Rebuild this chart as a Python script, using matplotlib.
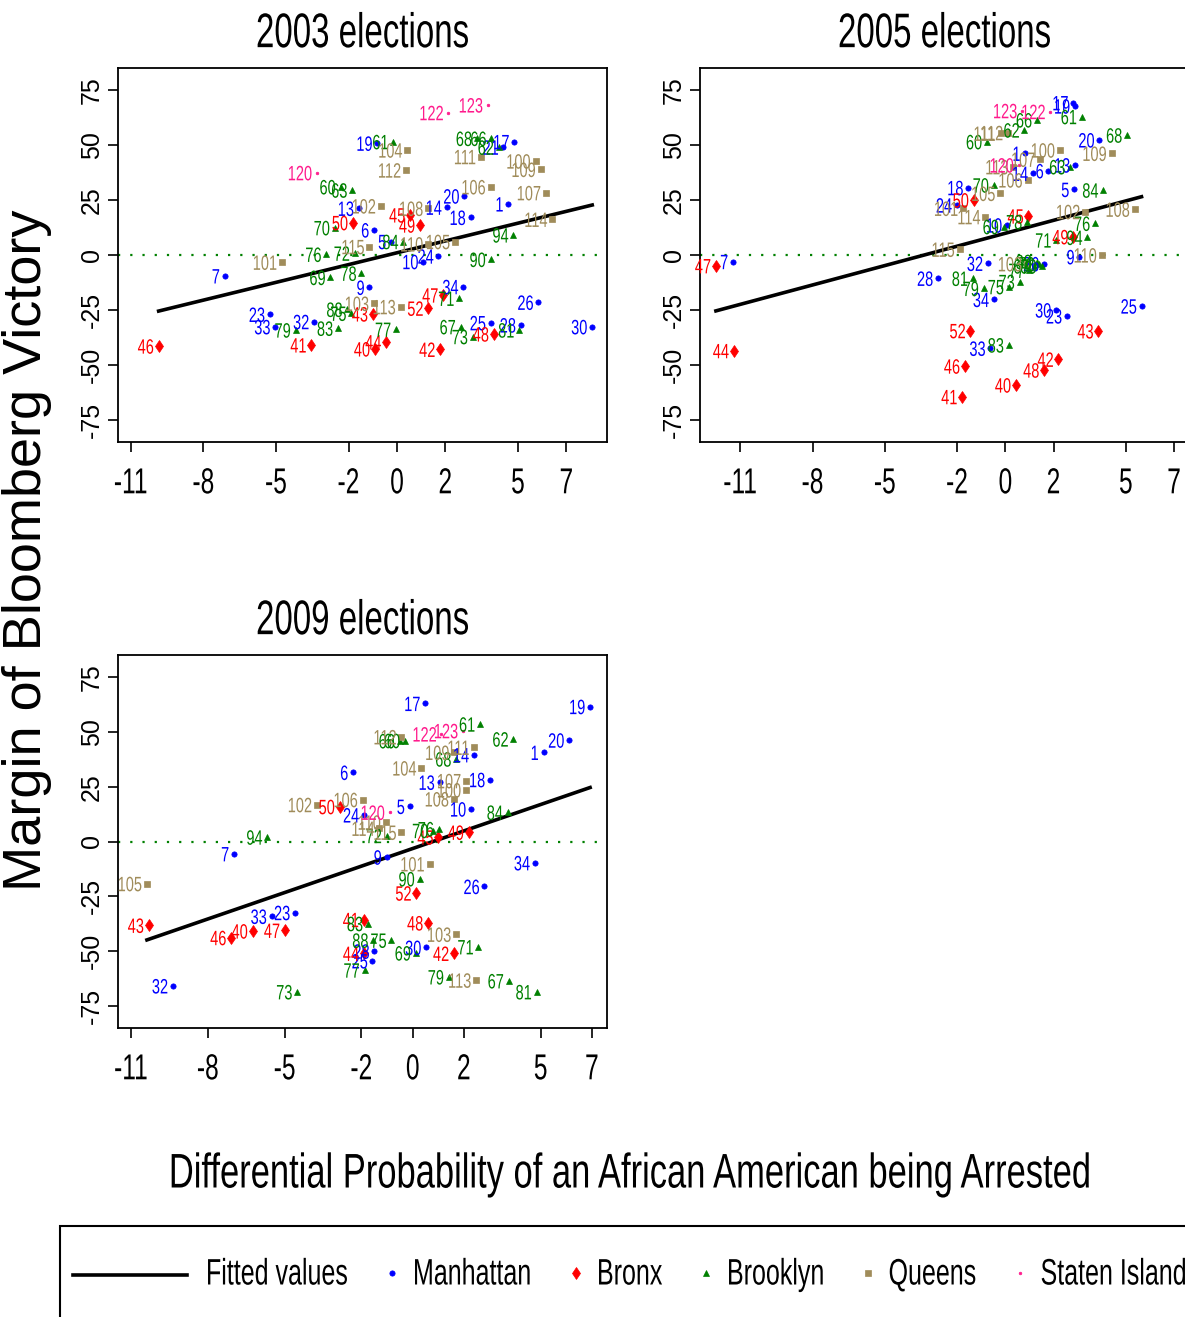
import matplotlib
matplotlib.use("Agg")
import matplotlib.pyplot as plt
import numpy as np
from matplotlib import patheffects
from matplotlib.lines import Line2D
from matplotlib.patches import Rectangle
from matplotlib.transforms import Affine2D

# district ids, arrest differential (x) and Bloomberg margin (y) per election
dist_2003 = [1, 5, 6, 7, 9, 10, 13, 14, 17, 18, 19, 20, 21, 23, 24, 25, 26, 28, 30, 32, 33, 34,
             40, 41, 42, 43, 44, 45, 46, 47, 48, 49, 50, 52,
             60, 61, 62, 63, 66, 67, 68, 69, 70, 71, 72, 73, 75, 76, 77, 78, 79, 81, 83, 84, 88, 90, 94,
             100, 101, 102, 103, 104, 105, 106, 107, 108, 109, 110, 111, 112, 113, 114, 115,
             120, 122, 123]
x_2003 = [4.6, -0.25, -0.95, -7.12, -1.14, 1.09, -1.58, 2.05, 4.85, 3.04, -0.81, 2.78, 4.4, -5.26, 1.71, 3.87, 5.84, 5.11, 8.07, -3.43, -5.03, 2.74,
          -0.91, -3.54, 1.78, -1.0, -0.45, 0.54, -9.85, 1.91, 4.0, 0.95, -1.82, 1.29,
          -2.33, -0.15, 4.2, -1.85, 3.9, 2.63, 3.3, -2.75, -2.57, 2.57, -1.75, 3.13, -1.89, -2.92, -0.04, -1.47, -4.19, 5.05, -2.44, 0.26, -2.05, 3.87, 4.81,
          5.73, -4.75, -0.67, -0.95, 0.43, 2.4, 3.87, 6.16, 1.29, 5.94, 1.29, 3.47, 0.37, 0.15, 6.42, -1.14,
          -3.31, 2.12, 3.75]
y_2003 = [23.2, 6.1, 11.4, -9.5, -14.7, -3.0, 21.2, 21.7, 51.5, 17.1, 50.8, 26.8, 49.0, -27.0, -0.5, -30.8, -21.5, -31.8, -32.6, -30.3, -32.6, -14.4,
          -42.7, -40.9, -42.9, -26.8, -39.5, 18.2, -41.4, -18.2, -35.9, 13.6, 14.7, -24.2,
          31.0, 51.5, 49.0, 29.5, 53.0, -32.6, 53.0, -10.2, 12.4, -19.7, 0.8, -37.1, -26.5, 0.3, -33.8, -8.3, -34.1, -34.1, -33.3, 6.1, -24.7, -2.0, 9.1,
          42.7, -3.3, 22.3, -22.0, 47.7, 6.1, 31.0, 28.3, 21.2, 38.9, 5.0, 44.7, 38.6, -23.5, 16.2, 3.8,
          37.4, 64.7, 68.2]

dist_2005 = [1, 5, 6, 7, 9, 10, 13, 14, 17, 18, 19, 20, 23, 24, 25, 26, 28, 30, 32, 33, 34,
             40, 41, 42, 43, 44, 45, 46, 47, 48, 49, 50, 52,
             60, 61, 62, 63, 66, 67, 68, 69, 70, 71, 72, 73, 75, 76, 77, 78, 79, 81, 83, 84, 88, 90, 94,
             100, 101, 102, 103, 105, 106, 107, 108, 109, 110, 111, 112, 113, 114, 115,
             120, 122, 123]
x_2005 = [0.83, 2.85, 1.79, -11.3, 3.07, 0.07, 2.89, 1.14, 2.82, -1.54, 2.89, 3.9, 2.55, -2.02, 5.65, 1.6, -2.8, 2.11, -0.73, -0.62, -0.48,
          0.44, -1.79, 2.2, 3.86, -11.27, 0.96, -1.68, -12.01, 1.61, 2.82, -1.31, -1.45,
          -0.76, 3.17, 0.79, 2.69, 1.31, 1.2, 5.05, -0.07, -0.48, 2.11, 1.4, 0.59, 0.14, 3.72, 1.0, 0.9, -0.9, -1.35, 0.14, 4.06, 1.3, 1.5, 3.4,
          2.27, -1.75, 3.31, 0.9, -0.21, 0.92, 1.45, 5.37, 4.41, 4.0, -0.2, 0.11, 0.33, -0.83, -1.9,
          0.55, 1.86, 0.69]
y_2005 = [46.2, 29.8, 38.3, -3.0, -0.8, 13.6, 40.9, 37.1, 69.2, 30.6, 67.7, 52.3, -27.7, 22.7, -23.2, -4.0, -10.6, -25.0, -3.8, -42.4, -20.2,
          -59.1, -64.4, -47.4, -34.5, -43.5, 17.7, -50.5, -4.9, -52.3, 8.3, 25.0, -34.4,
          51.5, 62.9, 56.8, 40.1, 61.4, -5.0, 54.5, 12.9, 31.8, 6.8, -4.0, -12.1, -14.4, 14.4, -7.0, 15.1, -15.2, -10.6, -40.9, 29.5, -3.0, -5.0, 8.0,
          47.7, 21.2, 19.7, -4.0, 28.0, 34.1, 43.5, 20.8, 46.2, 0.0, 55.3, 55.6, 40.1, 17.4, 2.6,
          40.9, 65.2, 65.6]

dist_2009 = [1, 5, 6, 7, 9, 10, 13, 14, 17, 18, 19, 20, 23, 24, 25, 26, 28, 30, 32, 33, 34,
             40, 41, 42, 43, 44, 45, 46, 47, 48, 49, 50, 52,
             60, 61, 62, 66, 67, 68, 69, 70, 71, 72, 73, 75, 76, 77, 79, 81, 83, 84, 88, 90, 94,
             100, 101, 102, 103, 104, 105, 106, 107, 108, 109, 110, 111, 112, 113, 114, 115,
             120, 122, 123]
x_2009 = [5.11, -0.12, -2.33, -6.98, -1.02, 2.28, 1.05, 2.39, 0.49, 3.02, 6.93, 6.11, -4.6, -1.91, -1.57, 2.8, -1.5, 0.53, -9.37, -5.51, 4.77,
          -6.25, -1.91, 1.61, -10.31, -1.91, 1.0, -7.09, -4.99, 0.6, 2.19, -2.85, 0.14,
          -0.3, 2.63, 3.93, -0.51, 3.75, 1.7, 0.12, 0.8, 2.57, -1.02, -4.51, -0.83, 1.02, -1.88, 1.41, 4.84, -1.75, 3.71, -1.54, 0.27, -5.68,
          2.09, 0.66, -3.74, 1.7, 0.34, -10.38, -1.95, 2.09, 1.61, 1.63, -1.05, 2.41, -0.44, 2.48, -1.3, -0.44,
          -0.9, 1.12, 1.96]
y_2009 = [40.6, 16.0, 31.5, -5.6, -7.1, 14.8, 27.0, 39.5, 62.9, 28.2, 61.5, 46.2, -32.4, 12.1, -54.4, -20.5, -50.0, -48.3, -65.8, -34.1, -9.7,
          -40.8, -35.6, -51.0, -38.2, -51.0, 2.0, -43.8, -40.5, -37.1, 4.2, 15.9, -23.5,
          46.0, 53.5, 46.7, 45.9, -63.5, 37.6, -50.8, 5.0, -48.0, 2.7, -68.5, -45.0, 5.8, -58.6, -61.7, -68.5, -37.4, 13.3, -45.0, -17.0, 2.0,
          23.5, -10.2, 16.8, -42.3, 33.5, -19.2, 19.1, 27.7, 19.4, 40.6, 8.8, 42.9, 47.7, -63.2, 6.0, 4.2,
          13.3, 49.0, 50.5]

boroughs = ["Manhattan", "Bronx", "Brooklyn", "Queens", "Staten Island"]
borough_first_id = [1, 40, 60, 100, 120]
xticks = [-11, -8, -5, -2, 0, 2, 5, 7]
yticks = [-75, -50, -25, 0, 25, 50, 75]

colors = ["#0000FF", "#FF0000", "#008000", "#A08C5A", "#FF1A8C"]
markers = ["o", "d", "^", "s", "o"]
msizes = [3.8, 6.2, 5.0, 3.7, 1.9]

plt.rcParams["font.family"] = ["Liberation Sans", "DejaVu Sans"]

W, H = 1185, 1317
SQ = 0.68  # horizontal squeeze of the narrow lettering


class Squeeze(patheffects.AbstractPathEffect):
    # narrows glyphs horizontally, keeping the aligned edge in place
    def __init__(self, sx=SQ, ha="center"):
        super().__init__()
        self.sx = sx
        self.ha = ha

    def draw_path(self, renderer, gc, tpath, affine, rgbFace=None):
        ext = tpath.get_extents()
        px = {"left": ext.x0, "center": 0.5 * (ext.x0 + ext.x1), "right": ext.x1}[self.ha]
        squash = Affine2D().translate(-px, 0).scale(self.sx, 1).translate(px, 0)
        renderer.draw_path(gc, tpath, squash + affine, rgbFace)


def fig_box(left, top, right, bottom):
    return [left / W, 1 - bottom / H, (right - left) / W, (bottom - top) / H]


def borough_of(d):
    return max(i for i, f in enumerate(borough_first_id) if d >= f)


def panel(ax, title, dist, xs, ys, xlim):
    xs = np.array(xs)
    ys = np.array(ys)
    b = np.array([borough_of(d) for d in dist])
    ax.axhline(0, color="#008000", lw=1.6, ls=(0, (1, 4.5)), zorder=1)
    slope, icpt = np.polyfit(xs, ys, 1)
    fx = np.array([xs.min(), xs.max()])
    ax.plot(fx, icpt + slope * fx, color="black", lw=2.6, zorder=2)
    for k in range(5):
        m = b == k
        ax.plot(xs[m], ys[m], ls="none", marker=markers[k], ms=msizes[k],
                color=colors[k], mec=colors[k], mew=0.5, zorder=3)
    for d, x, y, k in zip(dist, xs, ys, b):
        ax.annotate(str(d), (x, y), xytext=(-3.2, -1.5), textcoords="offset points",
                    ha="right", va="center", color=colors[k], fontsize=15,
                    path_effects=[Squeeze(0.7, "right")], zorder=4)
    ax.set_xlim(*xlim)
    ax.set_ylim(-85, 85)
    ax.set_xticks(xticks)
    ax.set_xticklabels([str(t) for t in xticks], fontsize=26,
                       path_effects=[Squeeze(SQ, "center")])
    ax.set_yticks(yticks)
    ax.set_yticklabels([str(t) for t in yticks], rotation=90, va="center", fontsize=18)
    ax.tick_params(axis="x", direction="out", length=7, width=1.2, pad=10.5)
    ax.tick_params(axis="y", direction="out", length=7, width=1.2, pad=3)
    for s in ax.spines.values():
        s.set_linewidth(1.3)
    ax.set_title(title, fontsize=35, pad=15, path_effects=[Squeeze(SQ, "center")])


fig = plt.figure(figsize=(W / 100, H / 100), dpi=100)
ax1 = fig.add_axes(fig_box(118, 68, 607, 442))
ax2 = fig.add_axes(fig_box(700, 68, 1189, 442))
ax3 = fig.add_axes(fig_box(118, 655, 607, 1028))

panel(ax1, "2003 elections", dist_2003, x_2003, y_2003, (-11.53, 8.68))
panel(ax2, "2005 elections", dist_2005, x_2005, y_2005, (-12.67, 7.62))
panel(ax3, "2009 elections", dist_2009, x_2009, y_2009, (-11.51, 7.59))

fig.text(27 / W, 1 - 550 / H, "Margin of Bloomberg Victory", rotation=90,
         ha="center", va="center", fontsize=39)
fig.text(630 / W, 1 - 1175 / H, "Differential Probability of an African American being Arrested",
         ha="center", va="center", fontsize=35, path_effects=[Squeeze(0.71, "center")])

# legend box running off the right edge
fig.add_artist(Rectangle((60 / W, 1 - 1340 / H), 1200 / W, 114 / H, transform=fig.transFigure,
                         fill=False, lw=1.5, ec="black"))
ly = 1 - 1275 / H
fig.add_artist(Line2D([73 / W, 187 / W], [ly, ly], transform=fig.transFigure, color="black", lw=2.6))
fig.text(205 / W, ly, "Fitted values", ha="left", va="center", fontsize=26.5,
         path_effects=[Squeeze(SQ, "left")])
mk_x = [392, 576, 706, 868, 1020]
for k in range(5):
    fig.add_artist(Line2D([mk_x[k] / W], [1 - 1273 / H], transform=fig.transFigure, ls="none",
                          marker=markers[k], ms=msizes[k], color=colors[k], mew=0.5))
    fig.text((mk_x[k] + 20) / W, ly, boroughs[k], ha="left", va="center", fontsize=26.5,
             path_effects=[Squeeze(SQ, "left")])

fig.savefig("out.png", dpi=100)
